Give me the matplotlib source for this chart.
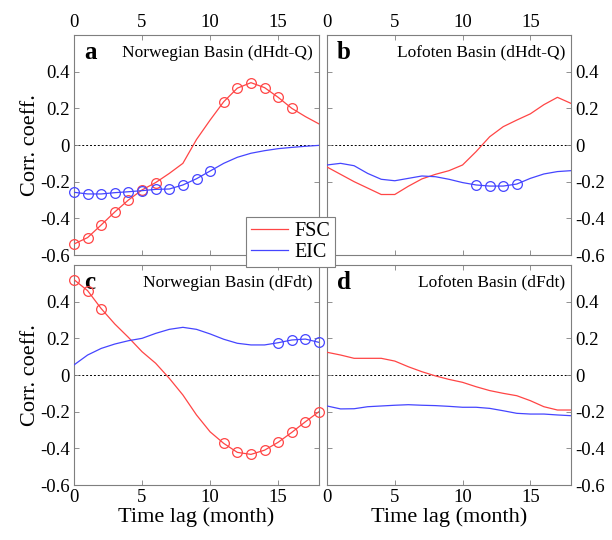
import numpy as np
import matplotlib.pyplot as plt
from matplotlib.lines import Line2D

plt.rcParams['font.family'] = ['Liberation Serif', 'DejaVu Serif']

lag = np.arange(0, 19)

# panel a: Norwegian Basin (dHdt-Q)
a_fsc = [-0.54, -0.505, -0.436, -0.365, -0.30, -0.245, -0.205, -0.155, -0.10,
         0.03, 0.136, 0.236, 0.31, 0.34, 0.313, 0.26, 0.20, 0.155, 0.115]
a_eic = [-0.258, -0.267, -0.267, -0.26, -0.255, -0.249, -0.242, -0.24, -0.218,
         -0.184, -0.142, -0.10, -0.067, -0.045, -0.031, -0.02, -0.013, -0.007, -0.002]
a_fsc_sig = [0, 1, 2, 3, 4, 5, 6, 11, 12, 13, 14, 15, 16]
a_eic_sig = [0, 1, 2, 3, 4, 5, 6, 7, 8, 9, 10]

# panel b: Lofoten Basin (dHdt-Q)
b_fsc = [-0.12, -0.16, -0.20, -0.235, -0.27, -0.27, -0.225, -0.185, -0.16,
         -0.14, -0.109, -0.036, 0.045, 0.10, 0.136, 0.17, 0.22, 0.26, 0.227]
b_eic = [-0.109, -0.10, -0.113, -0.155, -0.187, -0.195, -0.182, -0.169, -0.173,
         -0.187, -0.205, -0.218, -0.224, -0.224, -0.213, -0.182, -0.158, -0.145, -0.14]
b_fsc_sig = []
b_eic_sig = [11, 12, 13, 14]

# panel c: Norwegian Basin (dFdt)
c_fsc = [0.52, 0.46, 0.362, 0.278, 0.205, 0.127, 0.064, -0.018, -0.109, -0.218,
         -0.31, -0.373, -0.422, -0.433, -0.41, -0.367, -0.313, -0.255, -0.20]
c_eic = [0.055, 0.109, 0.145, 0.169, 0.187, 0.20, 0.227, 0.249, 0.26, 0.249,
         0.224, 0.195, 0.173, 0.164, 0.164, 0.176, 0.191, 0.196, 0.178]
c_fsc_sig = [0, 1, 2, 11, 12, 13, 14, 15, 16, 17, 18]
c_eic_sig = [15, 16, 17, 18]

# panel d: Lofoten Basin (dFdt)
d_fsc = [0.124, 0.109, 0.091, 0.091, 0.091, 0.076, 0.045, 0.018, -0.005, -0.024,
         -0.04, -0.064, -0.085, -0.10, -0.113, -0.14, -0.173, -0.191, -0.191]
d_eic = [-0.169, -0.185, -0.184, -0.173, -0.169, -0.165, -0.162, -0.165, -0.167,
         -0.171, -0.176, -0.176, -0.182, -0.195, -0.209, -0.213, -0.213, -0.218, -0.222]
d_fsc_sig = []
d_eic_sig = []

PANELS = [
    ("a", "Norwegian Basin (dHdt-Q)", a_fsc, a_eic, a_fsc_sig, a_eic_sig),
    ("b", "Lofoten Basin (dHdt-Q)", b_fsc, b_eic, b_fsc_sig, b_eic_sig),
    ("c", "Norwegian Basin (dFdt)", c_fsc, c_eic, c_fsc_sig, c_eic_sig),
    ("d", "Lofoten Basin (dFdt)", d_fsc, d_eic, d_fsc_sig, d_eic_sig),
]

RED = "#ff4545"
BLUE = "#4545ff"
SPINE = "#7f7f7f"

fig = plt.figure(figsize=(6.12, 5.40), dpi=100)
W, H = 612, 540
boxes = [(74, 35, 319, 255), (327, 35, 571, 255),
         (74, 265, 319, 485), (327, 265, 571, 485)]

for i, ((letter, title, fsc, eic, fsig, esig), (x0, y0, x1, y1)) in enumerate(zip(PANELS, boxes)):
    ax = fig.add_axes([x0 / W, 1 - y1 / H, (x1 - x0) / W, (y1 - y0) / H])
    fsc = np.array(fsc)
    eic = np.array(eic)
    ax.axhline(0, color="black", ls=(0, (2, 2)), lw=0.7, zorder=1)
    ax.plot(lag, fsc, color=RED, lw=0.9, zorder=3)
    ax.plot(lag, eic, color=BLUE, lw=0.9, zorder=3)
    if fsig:
        ax.plot(lag[fsig], fsc[fsig], ls="none", marker="o", ms=7, mfc="none",
                mec=RED, mew=0.9, zorder=4, clip_on=False)
    if esig:
        ax.plot(lag[esig], eic[esig], ls="none", marker="o", ms=7, mfc="none",
                mec=BLUE, mew=0.9, zorder=4, clip_on=False)

    ax.set_xlim(0, 18)
    ax.set_ylim(-0.6, 0.6)
    ax.set_xticks([0, 5, 10, 15])
    ax.set_yticks([-0.6, -0.4, -0.2, 0, 0.2, 0.4])
    ax.set_yticklabels(["-0.6", "-0.4", "-0.2", "0", "0.2", "0.4"])
    top = i < 2
    right = i % 2 == 1
    ax.tick_params(direction="in", length=3.5, width=0.6, color=SPINE,
                   top=True, bottom=True, left=True, right=True,
                   labeltop=top, labelbottom=not top,
                   labelleft=not right, labelright=right,
                   labelsize=13.5, pad=3)
    for s in ax.spines.values():
        s.set_color(SPINE)
        s.set_linewidth(0.8)

    ax.text(0.04, 0.92, letter, transform=ax.transAxes, fontsize=18,
            fontweight="bold", va="center", ha="left")
    ax.text(0.975, 0.92, title, transform=ax.transAxes, fontsize=12.5,
            va="center", ha="right")

    if not right:
        ax.set_ylabel("Corr. coeff.", fontsize=16, labelpad=0)
    if not top:
        ax.set_xlabel("Time lag (month)", fontsize=16, labelpad=1)

handles = [Line2D([], [], color=RED, lw=0.9), Line2D([], [], color=BLUE, lw=0.9)]
leg = fig.legend(handles, ["FSC", "EIC"], loc="upper left",
                 bbox_to_anchor=(246 / W, 1 - 217 / H), fontsize=14.5,
                 frameon=True, fancybox=False, edgecolor=SPINE, framealpha=1,
                 borderpad=0.25, handlelength=1.85, handletextpad=0.3,
                 labelspacing=0.1, borderaxespad=0)
leg.get_frame().set_linewidth(0.8)
leg.set_zorder(10)

fig.savefig("out.png", dpi=100)
